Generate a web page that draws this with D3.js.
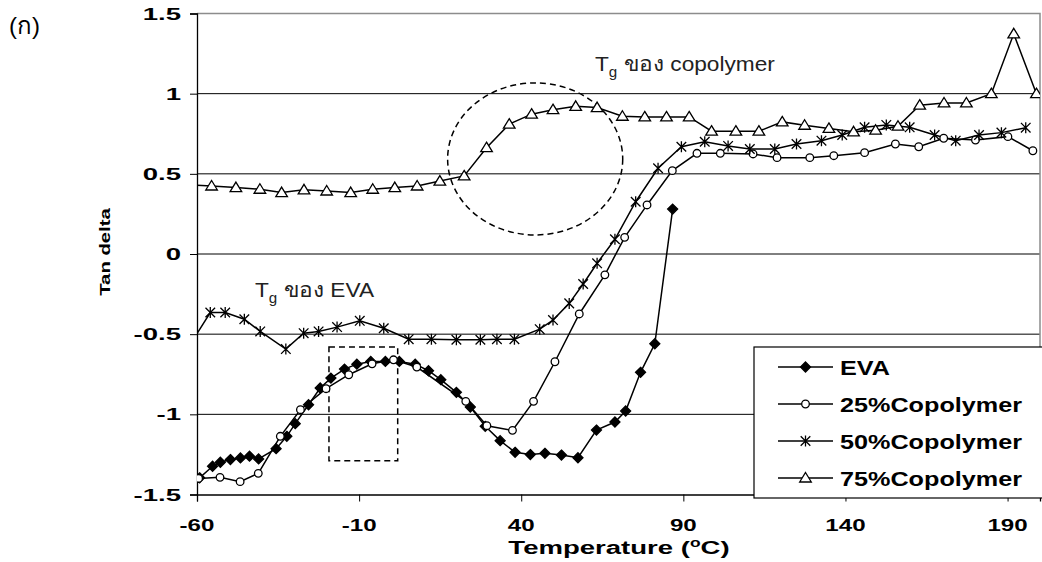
<!DOCTYPE html>
<html><head><meta charset="utf-8">
<script src="https://cdn.jsdelivr.net/npm/d3@7"></script>
<style>
html,body{margin:0;padding:0;background:#fff;}
svg{display:block;}
text{font-family:"Liberation Sans",Arial,"Noto Sans",sans-serif;}
</style></head>
<body>
<svg id="c" width="1042" height="562"></svg>
<script>
// ---- data ----
const xTicks = [-60, -10, 40, 90, 140, 190];
const yTicks = [-1.5, -1, -0.5, 0, 0.5, 1, 1.5];
const yTickLabels = ["-1.5", "-1", "-0.5", "0", "0.5", "1", "1.5"];
const seriesNames = ["EVA", "25%Copolymer", "50%Copolymer", "75%Copolymer"];

const evaT = [-62, -59.2, -55.2, -52.8, -49.7, -46.6, -43.8, -41.0, -35.6, -32.3, -29.7, -25.6, -22.0, -18.7, -14.5, -10.7, -6.4, -1.9, 2.4, 7.3, 11.4, 15.2, 20.0, 24.3, 28.9, 33.5, 38.1, 42.8, 47.3, 52.4, 57.5, 63.2, 68.9, 72.2, 76.8, 81.2, 86.7];
const evaV = [-1.43, -1.396, -1.324, -1.299, -1.282, -1.272, -1.261, -1.278, -1.214, -1.137, -1.058, -0.940, -0.836, -0.774, -0.718, -0.687, -0.670, -0.670, -0.670, -0.687, -0.728, -0.784, -0.863, -0.954, -1.075, -1.164, -1.237, -1.251, -1.243, -1.254, -1.271, -1.098, -1.048, -0.979, -0.738, -0.56, 0.28];

const c25T = [-62, -59.5, -52.9, -46.7, -41.1, -34.3, -28.1, -20.2, -13.2, -6.0, 0.6, 7.8, 22.9, 29.4, 37.3, 43.8, 50.4, 57.9, 65.8, 71.9, 78.8, 86.6, 94.2, 101.4, 111.5, 118.9, 129.0, 136.4, 145.9, 155.4, 162.6, 170.3, 180.1, 190.1, 197.8];
const c25V = [-1.43, -1.40, -1.393, -1.42, -1.368, -1.137, -0.971, -0.840, -0.753, -0.685, -0.660, -0.705, -0.919, -1.071, -1.100, -0.919, -0.672, -0.374, -0.13, 0.104, 0.306, 0.52, 0.628, 0.628, 0.624, 0.601, 0.601, 0.613, 0.632, 0.686, 0.669, 0.722, 0.711, 0.732, 0.644];

const c50T = [-62, -55.9, -51.3, -45.4, -40.5, -32.6, -27.1, -22.5, -16.8, -9.8, -2.4, 5.3, 12.3, 20.0, 27.4, 32.5, 37.9, 45.7, 49.8, 54.8, 59.1, 63.4, 68.9, 75.3, 82.2, 89.4, 96.6, 103.8, 110.5, 118.2, 124.9, 132.6, 139.0, 145.9, 152.6, 159.8, 167.5, 174.0, 181.2, 188.1, 195.6];
const c50V = [-0.56, -0.365, -0.365, -0.407, -0.483, -0.593, -0.494, -0.483, -0.456, -0.417, -0.463, -0.531, -0.531, -0.535, -0.535, -0.531, -0.531, -0.469, -0.412, -0.308, -0.187, -0.058, 0.092, 0.326, 0.535, 0.669, 0.70, 0.674, 0.655, 0.655, 0.686, 0.707, 0.742, 0.79, 0.805, 0.79, 0.742, 0.707, 0.742, 0.757, 0.788];

const c75T = [-62, -55.5, -48.0, -40.6, -33.9, -27.0, -20.0, -12.6, -5.8, 1.0, 7.9, 14.9, 22.4, 29.3, 36.3, 43.2, 49.8, 56.8, 63.4, 71.2, 78.1, 84.8, 91.8, 98.7, 106.2, 113.3, 120.5, 127.4, 134.9, 142.5, 149.3, 156.2, 162.9, 170.4, 177.3, 185.0, 191.9, 198.9];
const c75V = [0.43, 0.424, 0.414, 0.404, 0.383, 0.40, 0.393, 0.383, 0.404, 0.414, 0.424, 0.455, 0.487, 0.663, 0.81, 0.872, 0.90, 0.921, 0.913, 0.859, 0.855, 0.855, 0.855, 0.766, 0.766, 0.766, 0.824, 0.803, 0.783, 0.762, 0.772, 0.797, 0.928, 0.942, 0.942, 1.0, 1.373, 1.0];

// annotation regions in data units
const tgCopolymerEllipse = {cx: 44.3, cy: 0.593, rx: 27, ry: 0.474};
const tgEvaBox = {x0: -19.3, x1: 1.9, y0: -0.58, y1: -1.29};

// ---- layout ----
const svg = d3.select("#c");
const L = 197, R = 1040, T = 13.5, B = 494.5;
const x = d3.scaleLinear().domain([-60, 200]).range([L, R]);
const y = d3.scaleLinear().domain([-1.5, 1.5]).range([B, T]);

svg.append("defs").append("clipPath").attr("id", "pc")
  .append("rect").attr("x", L).attr("y", T - 1).attr("width", R - L).attr("height", B - T + 1);

// gridlines
svg.append("g").selectAll("line").data(yTicks.filter(v => v > -1.5 && v < 1.5)).join("line")
  .attr("x1", L).attr("x2", R).attr("y1", d => y(d)).attr("y2", d => y(d))
  .attr("stroke", "#000").attr("stroke-width", 1);
// plot border top/right (gray)
svg.append("path").attr("d", `M${L},${y(1.5)}H${R}V${B}`)
  .attr("fill", "none").attr("stroke", "#8c8c8c").attr("stroke-width", 1.5);

// axes
const xAxis = d3.axisBottom(x).tickValues(xTicks).tickSize(7).tickFormat("");
const gx = svg.append("g").attr("transform", `translate(0,${B})`).call(xAxis);
gx.select(".domain").attr("stroke", "#000").attr("stroke-width", 1.3);
gx.selectAll(".tick line").attr("stroke", "#000");
const yAxis = d3.axisLeft(y).tickValues(yTicks).tickSize(7).tickFormat("");
const gy = svg.append("g").attr("transform", `translate(${L},0)`).call(yAxis);
gy.select(".domain").attr("stroke", "#000").attr("stroke-width", 1.3);
gy.selectAll(".tick line").attr("stroke", "#000");

function stretched(g, tx, ty, str, size, sx, anchor, weight) {
  return g.append("text").attr("transform", `translate(${tx},${ty}) scale(${sx},1)`)
    .attr("text-anchor", anchor).attr("font-size", size).attr("font-weight", weight).text(str);
}
const lab = svg.append("g").attr("fill", "#000");
xTicks.forEach(v => stretched(lab, x(v), 531, String(v), 17, 1.42, "middle", "bold"));
yTicks.forEach((v, i) => stretched(lab, 181, y(v) + 6, yTickLabels[i], 17, 1.62, "end", "bold"));

// axis titles
const xt = lab.append("text").attr("transform", `translate(619,554) scale(1.45,1)`)
  .attr("text-anchor", "middle").attr("font-size", 19).attr("font-weight", "bold");
xt.append("tspan").text("Temperature (");
xt.append("tspan").attr("font-size", 12).attr("dy", -7).text("o");
xt.append("tspan").attr("dy", 7).text("C)");
lab.append("text").attr("transform", "translate(110,252) rotate(-90) scale(1.45,1)")
  .attr("text-anchor", "middle").attr("font-size", 14).attr("font-weight", "bold").text("Tan delta");

// panel label
lab.append("text").attr("x", 9).attr("y", 34).attr("font-size", 24).text("(ก)");

// annotations
const ann = svg.append("g").attr("fill", "none").attr("stroke", "#000").attr("stroke-width", 1.5).attr("stroke-dasharray", "6,4");
ann.append("ellipse").attr("cx", x(tgCopolymerEllipse.cx)).attr("cy", y(tgCopolymerEllipse.cy))
  .attr("rx", x(tgCopolymerEllipse.cx + tgCopolymerEllipse.rx) - x(tgCopolymerEllipse.cx))
  .attr("ry", y(tgCopolymerEllipse.cy - tgCopolymerEllipse.ry) - y(tgCopolymerEllipse.cy));
ann.append("rect").attr("x", x(tgEvaBox.x0)).attr("y", y(tgEvaBox.y0))
  .attr("width", x(tgEvaBox.x1) - x(tgEvaBox.x0)).attr("height", y(tgEvaBox.y1) - y(tgEvaBox.y0));

function tgLabel(tx, ty, rest) {
  const t = lab.append("text").attr("transform", `translate(${tx},${ty}) scale(1.08,1)`)
    .attr("font-size", 21).attr("fill", "#222");
  t.append("tspan").text("T");
  t.append("tspan").attr("font-size", 14).attr("dy", 6).text("g");
  t.append("tspan").attr("dy", -6).text(" " + rest);
}
tgLabel(595, 71, "ของ copolymer");
tgLabel(255, 297, "ของ EVA");

// markers
const markerPath = {
  diamond: "M0,-5L5,0L0,5L-5,0Z",
  circle: "M3.8,0A3.8,3.8 0 1,1 -3.8,0A3.8,3.8 0 1,1 3.8,0Z",
  star: "M0,-5.5V5.5M-4.8,-4.8L4.8,4.8M-4.8,4.8L4.8,-4.8",
  triangle: "M0,-5.5L5.8,4L-5.8,4Z"
};
const series = [
  {name: seriesNames[0], t: evaT, v: evaV, m: "diamond", fill: "#000"},
  {name: seriesNames[1], t: c25T, v: c25V, m: "circle", fill: "#fff"},
  {name: seriesNames[2], t: c50T, v: c50V, m: "star", fill: "none"},
  {name: seriesNames[3], t: c75T, v: c75V, m: "triangle", fill: "#fff"}
];
const plot = svg.append("g").attr("clip-path", "url(#pc)");
const line = d3.line().x(d => x(d[0])).y(d => y(d[1]));
series.forEach(s => {
  const pts = s.t.map((t, i) => [t, s.v[i]]);
  plot.append("path").datum(pts).attr("d", line).attr("fill", "none")
    .attr("stroke", "#000").attr("stroke-width", 1.5);
});
series.forEach(s => {
  const pts = s.t.map((t, i) => [t, s.v[i]]);
  plot.append("g").selectAll("path").data(pts).join("path")
    .attr("transform", d => `translate(${x(d[0])},${y(d[1])})`)
    .attr("d", markerPath[s.m]).attr("fill", s.fill)
    .attr("stroke", "#000").attr("stroke-width", 1.3);
});

// legend
const lg = svg.append("g");
lg.append("rect").attr("x", 754).attr("y", 347).attr("width", 300).attr("height", 151)
  .attr("fill", "#fff").attr("stroke", "#000").attr("stroke-width", 1.2);
series.forEach((s, i) => {
  const cy = 367 + i * 37;
  lg.append("line").attr("x1", 778).attr("x2", 833).attr("y1", cy).attr("y2", cy)
    .attr("stroke", "#000").attr("stroke-width", 1.4);
  lg.append("path").attr("transform", `translate(805.5,${cy})`).attr("d", markerPath[s.m])
    .attr("fill", s.fill).attr("stroke", "#000").attr("stroke-width", 1.3);
  stretched(lg, 840, cy + 7.5, s.name, 21, 1.2, "start", "bold");
});
</script>
</body></html>
